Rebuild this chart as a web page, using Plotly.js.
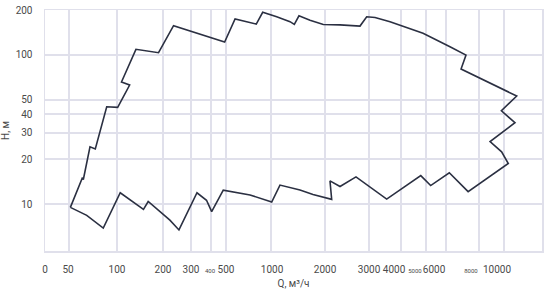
<!DOCTYPE html>
<html>
<head>
<meta charset="utf-8">
<script src="https://cdn.plot.ly/plotly-3.0.1.min.js"></script>
<style>html,body{margin:0;padding:0;background:#fff;}#chart{width:551px;height:294px;}</style>
</head>
<body>
<div id="chart"></div>
<script>
// Operating-range envelope: flow Q (m3/h) and head H (m), closed outline
const Q = [51, 60.5, 61.5, 67.7, 73.1, 86.2, 101, 121, 107, 133, 187, 233, 490, 575, 797, 880,
  1076, 1276, 1349, 1432, 1650, 1957, 2297, 2761, 2937, 3167, 3624, 4143, 4869, 6212, 7142,
  6842, 11200, 9770, 11030, 8830, 9790, 10390, 7276, 6175, 5217, 4772, 3517, 2661, 2297, 2094,
  2127, 1714, 1451, 1122, 1009, 724, 480, 404, 375, 327, 252, 221, 191, 160, 149, 105, 82, 64.6, 51];
const H = [9.5, 14.9, 14.6, 24.2, 23.4, 44.9, 44.5, 62.8, 65.8, 109, 103.4, 157, 122, 174, 161, 193,
  180, 167, 160, 183, 171, 160, 159, 156, 180, 178, 167, 154.5, 139.5, 113.5, 99.8,
  80.4, 53, 42.2, 35.1, 26.2, 22.4, 18.7, 12.1, 16.2, 13.3, 15.5, 10.8, 15.2, 13.1, 14.3,
  10.75, 11.6, 12.4, 13.4, 10.3, 11.5, 12.4, 8.9, 10.6, 11.9, 6.7, 7.8, 8.9, 10.4, 9.2, 11.9, 6.9, 8.4, 9.5];

// Tick labels
const xTickQ = [0, 50, 100, 200, 300, 400, 500, 1000, 2000, 3000, 4000, 5000, 6000, 8000, 10000];
const xTickText = ['0', '50', '100', '200', '300', '400', '500', '1000', '2000', '3000', '4000', '5000', '6000', '8000', '10000'];
const yTickVals = [10, 20, 30, 40, 50, 100, 200];
const yTickText = ['10', '20', '30', '40', '50', '100', '200'];

// The original chart's non-uniform (piecewise logarithmic) Q scale
const scaleQ = [50, 100, 200, 300, 400, 500, 1000, 2000, 3000, 4000, 5000, 6000, 8000, 10000];
const scaleU = [24, 72, 118, 146, 166, 181, 226, 280, 324, 356, 381, 401, 434, 459];
const labelShift = [0, -1, 0, 0, 0, -1, 0, 1, 0, 0, -7, -11, -12, -8, -7];
const smallLabel = ['400', '5000', '8000'];

function toU(q) {
  if (q <= 0) return 0;
  const l = Math.log10(q);
  const L = scaleQ.map(Math.log10);
  let i = 0;
  if (l >= L[L.length - 1]) i = L.length - 2;
  else { while (i < L.length - 2 && l > L[i + 1]) i++; }
  return scaleU[i] + (l - L[i]) / (L[i + 1] - L[i]) * (scaleU[i + 1] - scaleU[i]);
}

const xu = Q.map(toU);
const gridVals = xTickQ.map(toU);
const labelVals = xTickQ.map((q, i) => toU(q) + labelShift[i]);
const labelText = xTickText.map(t => smallLabel.includes(t) ? '<span style="font-size:6px">' + t + '</span>' : t);

const gridColor = '#e0e0eb';
const fontFam = 'Roboto, "Open Sans", sans-serif';

const traces = [
  {x: xu, y: H, type: 'scatter', mode: 'lines', line: {color: '#2b3042', width: 1.6},
   hoverinfo: 'skip', showlegend: false}
];

const layout = {
  width: 551, height: 294,
  margin: {l: 45, r: 9, t: 10, b: 43},
  paper_bgcolor: '#ffffff', plot_bgcolor: '#ffffff',
  font: {family: fontFam, size: 10, color: '#4a4a4a'},
  showlegend: false,
  xaxis: {
    type: 'linear', range: [0, 497], tickmode: 'array', tickvals: labelVals, ticktext: labelText,
    tickangle: 0, automargin: false, showgrid: false,
    minor: {tickmode: 'array', tickvals: gridVals, showgrid: true, gridcolor: gridColor, gridwidth: 1.5, ticks: ''},
    zeroline: false, showline: true, mirror: true, linecolor: gridColor, linewidth: 1.5, ticks: '',
    ticklabelstandoff: 8,
    tickfont: {family: fontFam, size: 10, color: '#4a4a4a'},
    title: {text: 'Q, м³/ч', font: {family: fontFam, size: 10, color: '#4a4a4a'}, standoff: 6}
  },
  yaxis: {
    type: 'log', range: [0.685, 2.301], tickmode: 'array', tickvals: yTickVals, ticktext: yTickText,
    showgrid: true, gridcolor: gridColor, gridwidth: 1.5, zeroline: false, automargin: false,
    showline: true, mirror: true, linecolor: gridColor, linewidth: 1.5, ticks: '', ticklabelstandoff: 9,
    tickfont: {family: fontFam, size: 10, color: '#4a4a4a'},
    title: {text: 'H, м', font: {family: fontFam, size: 10, color: '#4a4a4a'}, standoff: 4}
  }
};

Plotly.newPlot('chart', traces, layout, {displayModeBar: false, staticPlot: true});
</script>
</body>
</html>
